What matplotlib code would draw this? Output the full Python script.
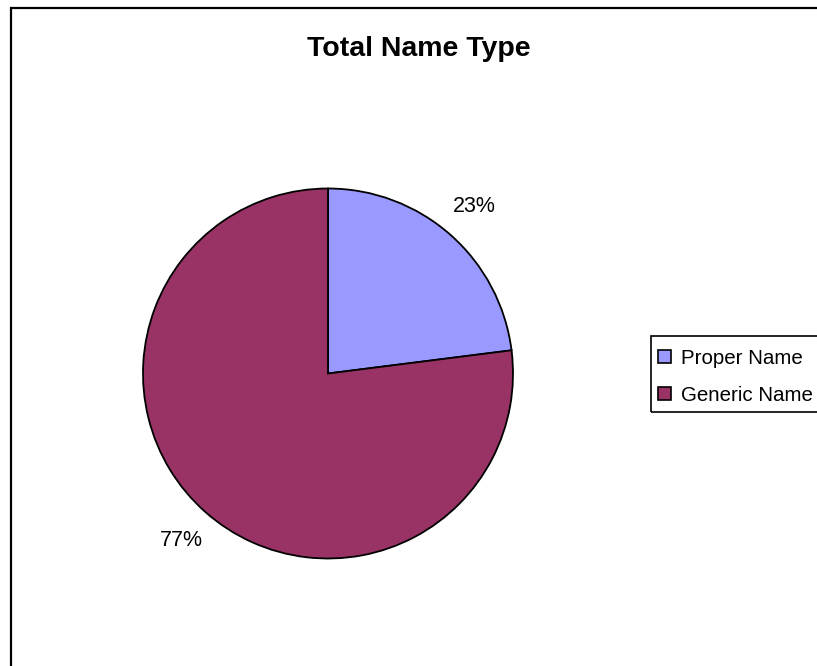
import matplotlib
matplotlib.use("Agg")
import matplotlib.pyplot as plt
from matplotlib.patches import Rectangle

categories = ["Proper Name", "Generic Name"]
values = [23, 77]
colors = ["#9999FF", "#993366"]
title = "Total Name Type"

plt.rcParams['font.family'] = ['Liberation Sans', 'DejaVu Sans']

W, H = 817, 666
fig = plt.figure(figsize=(W / 100, H / 100), dpi=100)

# outer chart border
fig.patches.append(Rectangle((10.5 / W, -0.1), 1.2, (H - 8) / H + 0.1,
                             transform=fig.transFigure, fill=False,
                             edgecolor="black", linewidth=1.6, zorder=0))
# legend frame (extends past right edge like the reference)
fig.patches.append(Rectangle((650.5 / W, (H - 412) / H), 0.3, 76 / H,
                             transform=fig.transFigure, fill=False,
                             edgecolor="black", linewidth=1.2, zorder=1))

cx, cy, r = 328, 373.5, 185
ax = fig.add_axes([(cx - r) / W, (H - cy - r) / H, 2 * r / W, 2 * r / H])
wedges, texts, autotexts = ax.pie(
    values, colors=colors, startangle=90, counterclock=False,
    autopct="%1.0f%%", pctdistance=1.2, radius=1,
    wedgeprops=dict(edgecolor="black", linewidth=1.3),
    textprops=dict(fontsize=15.5, color="black"))
ax.set_xlim(-1, 1)
ax.set_ylim(-1, 1)
ax.set_aspect("equal")
ax.axis("off")

fig.text(418.5 / W, (H - 56) / H, title, ha="center", va="baseline",
         fontsize=20.5, fontweight="bold")

leg = fig.legend(wedges, categories, loc="upper left",
                 bbox_to_anchor=(651 / W, (H - 342) / H),
                 fontsize=14.8, frameon=False,
                 handlelength=0.6, handleheight=0.6,
                 handletextpad=0.5, borderpad=0.35, labelspacing=0.86,
                 borderaxespad=0)
for h in leg.legend_handles:
    h.set_linewidth(1.2)
    h.set_edgecolor("black")

fig.savefig("out.png", dpi=100)
